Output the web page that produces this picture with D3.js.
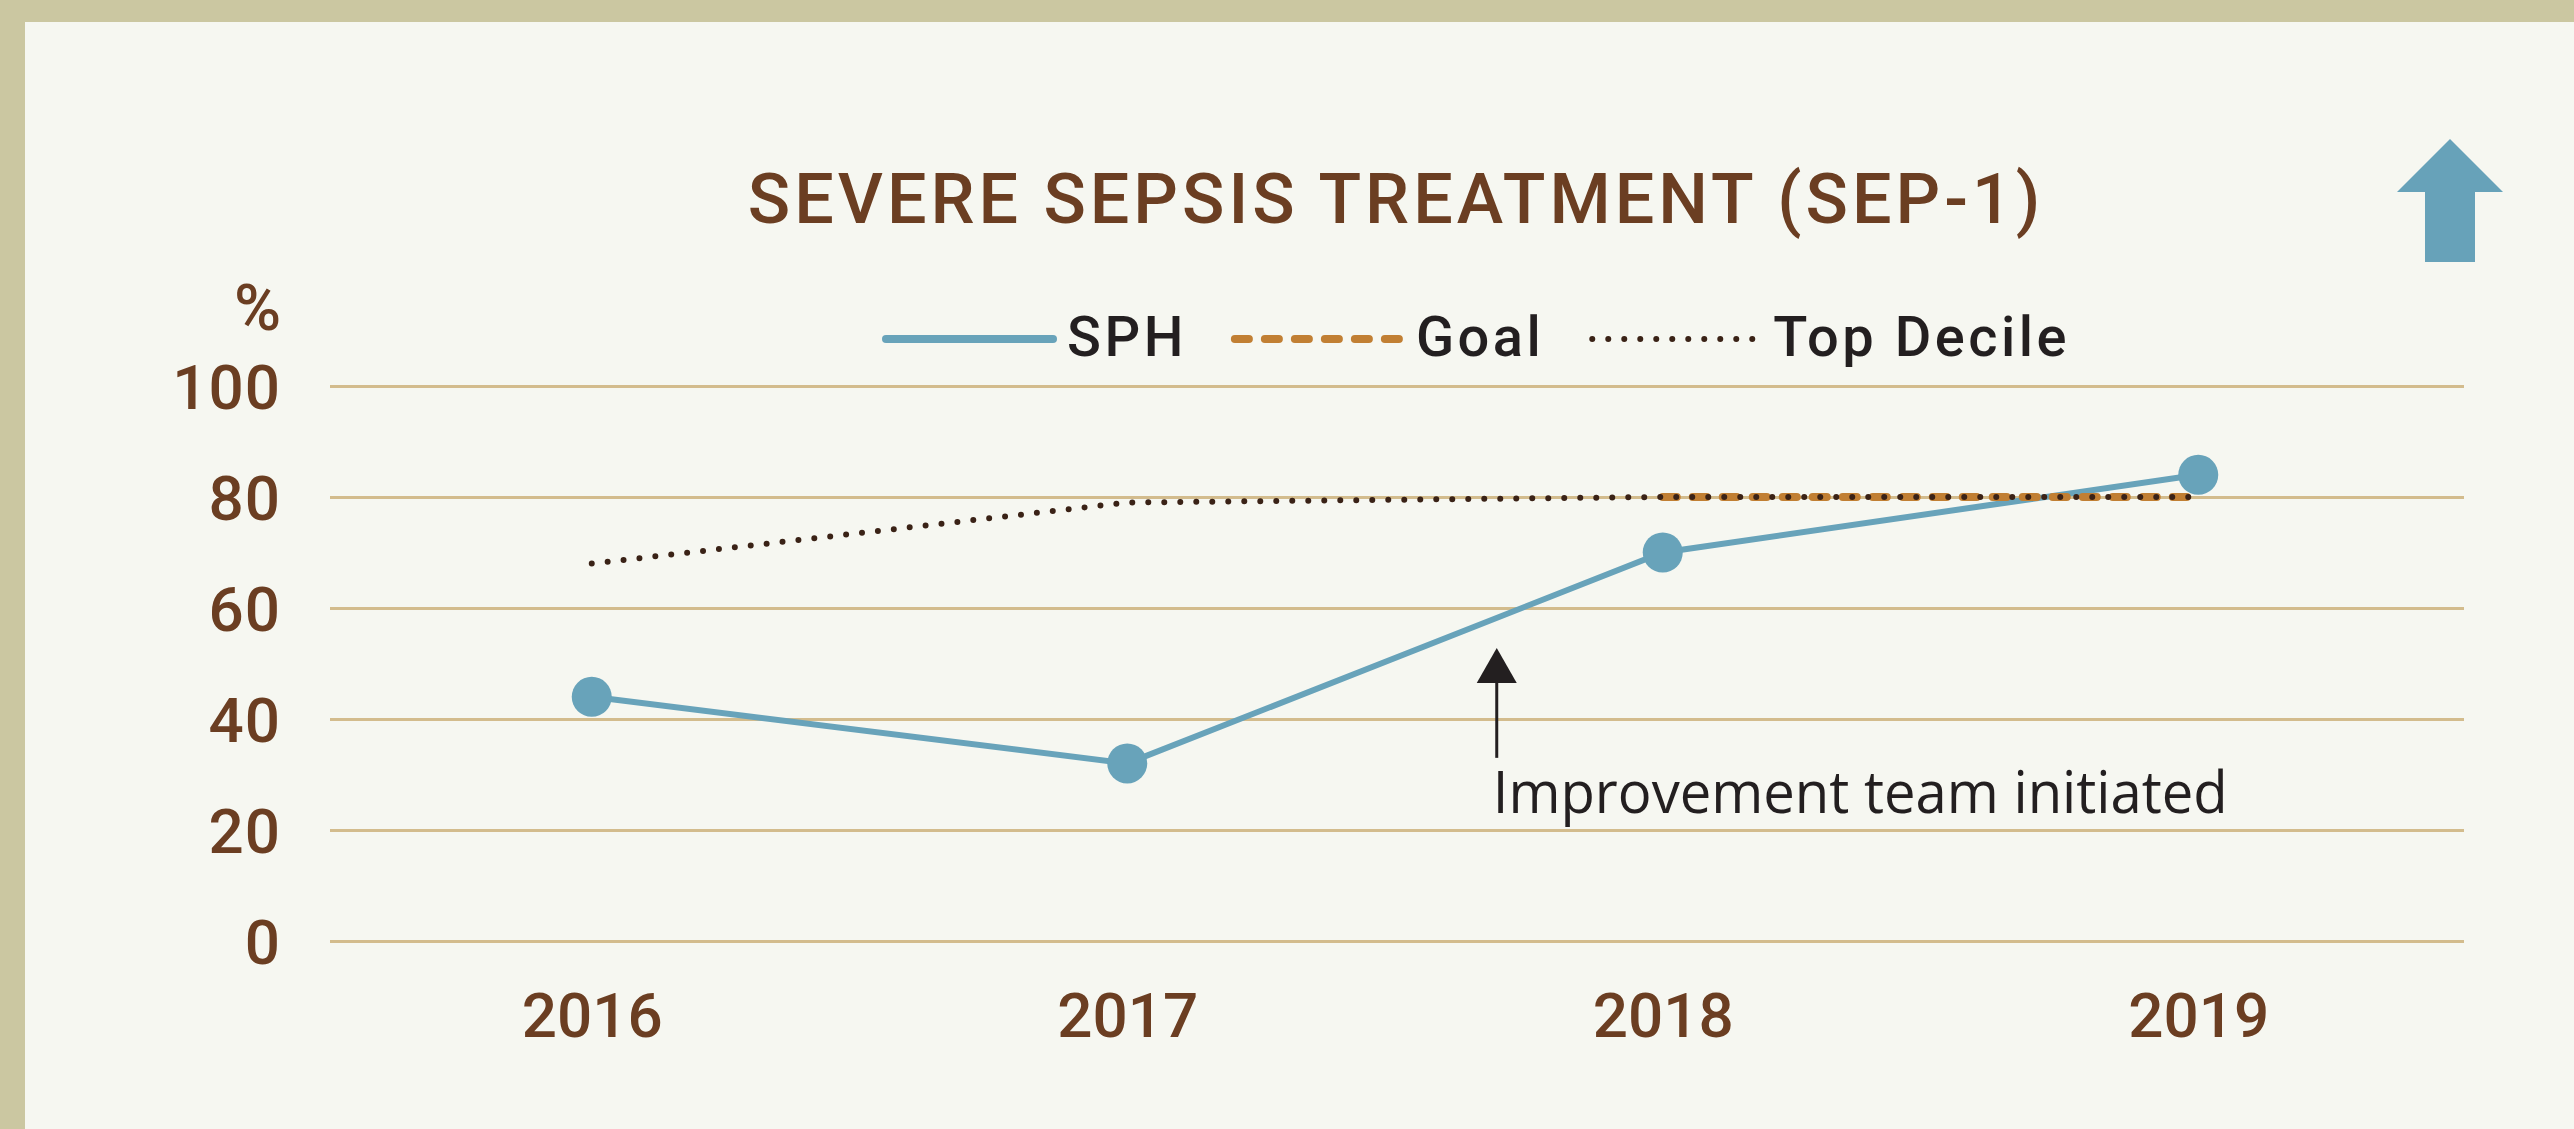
<!DOCTYPE html>
<html>
<head>
<meta charset="utf-8">
<script src="https://cdn.jsdelivr.net/npm/d3@7"></script>
<style>
  html, body { margin: 0; padding: 0; background: #cbc7a1; }
  svg { display: block; }
  .tick line { stroke: #d3bc8d; stroke-width: 3; }
  .tick text { fill: #6b3e22; font-family: Roboto, sans-serif; font-weight: 500; font-size: 62px; }
</style>
</head>
<body>
<div id="main"></div>
<script>
// DATA
const years      = ["2016", "2017", "2018", "2019"]
const sph        = [44, 32, 70, 84]
const goal       = [null, null, 80, 80]
const top_decile = [68, 79, 80, 80]
const y_ticks    = [0, 20, 40, 60, 80, 100]
const series_names = ["SPH", "Goal", "Top Decile"]

const title_text = "SEVERE SEPSIS TREATMENT (SEP-1)"
const note_text  = "Improvement team initiated"
// note sits 69% of the way from 2017 to 2018
const note_from = "2017", note_to = "2018", note_frac = 0.69

// LAYOUT
const width = 2574
const height = 1129
const grid_left = 330, grid_right = 2464

const BROWN = "#6b3e22"
const INK   = "#231f20"
const BLUE  = "#68a3ba"
const ORANGE = "#c17f33"
const DOT   = "#3a2216"

const x = d3.scalePoint().domain(years).range([324, 2466]).padding(0.5)
const y = d3.scaleLinear().domain([0, 100]).range([941, 386])

const svg = d3.select("#main").append("svg")
    .attr("width", width)
    .attr("height", height)

// panel + frame
svg.append("rect").attr("width", width).attr("height", height).attr("fill", "#cbc7a1")
svg.append("rect").attr("x", 25).attr("y", 22).attr("width", width - 25).attr("height", height - 22).attr("fill", "#f6f7f1")

// GRID + Y AXIS
svg.append("g")
    .attr("transform", `translate(${grid_left},0)`)
    .call(d3.axisLeft(y).tickValues(y_ticks).tickSize(-(grid_right - grid_left)).tickPadding(49).tickFormat(d3.format("d")))
    .call(g => g.select(".domain").remove())
    .call(g => g.selectAll("text").attr("dy", "0.36em").style("letter-spacing", "1px"))

svg.append("text")
    .attr("x", 281).attr("y", 330)
    .attr("text-anchor", "end")
    .attr("fill", BROWN)
    .style("font-family", "Roboto, sans-serif").style("font-weight", 500).style("font-size", "64px")
    .text("%")

// X AXIS
svg.append("g")
    .attr("transform", `translate(0,${y(0)})`)
    .call(d3.axisBottom(x).tickSize(0).tickPadding(52))
    .call(g => g.select(".domain").remove())

// TITLE
svg.append("text")
    .attr("x", 1396).attr("y", 223)
    .attr("text-anchor", "middle")
    .attr("fill", BROWN)
    .style("font-family", "Roboto, sans-serif").style("font-weight", 500).style("font-size", "70px")
    .style("letter-spacing", "4px")
    .text(title_text)

// up arrow (top right)
svg.append("path")
    .attr("d", "M2450,139 L2503,192 L2475,192 L2475,262 L2425,262 L2425,192 L2397,192 Z")
    .attr("fill", "#67a2b9")

// LINES
const styles = {
    "SPH":        { stroke: BLUE,   width: 6, dash: null,    cap: "butt" },
    "Goal":       { stroke: ORANGE, width: 8, dash: "14,16", cap: "round" },
    "Top Decile": { stroke: DOT,    width: 6, dash: "0,16",  cap: "round" }
}
const series = [sph, goal, top_decile]

const line = d3.line()
    .defined(d => d.v != null)
    .x(d => x(d.year))
    .y(d => y(d.v))

series_names.forEach((name, i) => {
    const st = styles[name]
    const pts = years.map((yr, j) => ({ year: yr, v: series[i][j] }))
    svg.append("path")
        .datum(pts)
        .attr("d", line)
        .attr("fill", "none")
        .attr("stroke", st.stroke)
        .attr("stroke-width", st.width)
        .attr("stroke-dasharray", st.dash)
        .attr("stroke-linecap", st.cap)
})

svg.selectAll("circle.sph")
    .data(years.map((yr, j) => ({ year: yr, v: sph[j] })))
    .enter().append("circle")
        .attr("class", "sph")
        .attr("cx", d => x(d.year))
        .attr("cy", d => y(d.v))
        .attr("r", 20)
        .attr("fill", BLUE)

// LEGEND
const legend = svg.append("g")
let lx = 882
series_names.forEach(name => {
    const st = styles[name]
    legend.append("line")
        .attr("x1", lx + 4).attr("x2", lx + 171)
        .attr("y1", 339).attr("y2", 339)
        .attr("stroke", st.stroke)
        .attr("stroke-width", name === "SPH" ? 8 : st.width)
        .attr("stroke-dasharray", st.dash)
        .attr("stroke-linecap", "round")
    const t = legend.append("text")
        .attr("x", lx + 185).attr("y", 356)
        .attr("fill", INK)
        .style("font-family", "Roboto, sans-serif").style("font-weight", 500).style("font-size", "56px")
        .style("letter-spacing", "3.5px")
        .text(name)
    lx += 185 + t.node().getComputedTextLength() + 44
})

// ANNOTATION
const note_x = x(note_from) + (x(note_to) - x(note_from)) * note_frac
svg.append("path")
    .attr("d", `M${note_x},${y(52.8)} L${note_x + 20},${y(46.5)} L${note_x - 20},${y(46.5)} Z`)
    .attr("fill", INK)
svg.append("line")
    .attr("x1", note_x).attr("x2", note_x)
    .attr("y1", y(46.5)).attr("y2", y(33))
    .attr("stroke", INK).attr("stroke-width", 3)
svg.append("text")
    .attr("x", note_x - 4).attr("y", y(23))
    .attr("fill", INK)
    .attr("textLength", 735)
    .attr("lengthAdjust", "spacingAndGlyphs")
    .style("font-family", "'Open Sans', sans-serif").style("font-size", "59px")
    .text(note_text)
</script>
</body>
</html>
